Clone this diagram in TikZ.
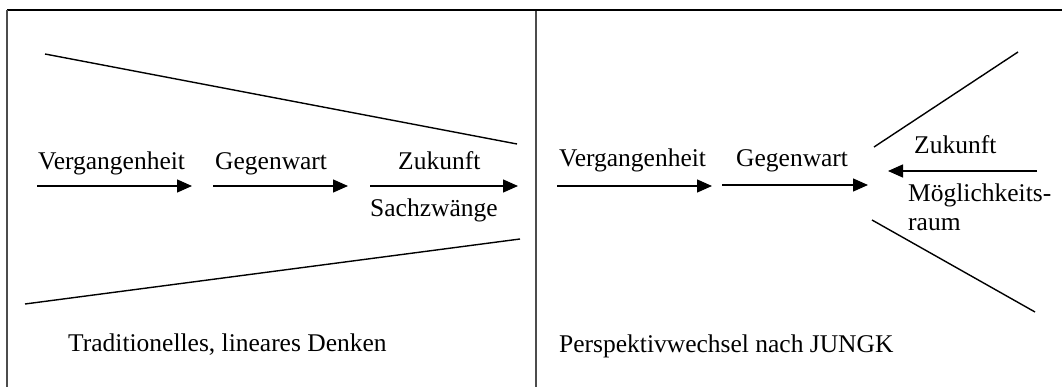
\documentclass[tikz,border=0pt]{standalone}
\usepackage{fontspec}
\setmainfont{Liberation Serif}
\usetikzlibrary{arrows.meta}
\begin{document}
\begin{tikzpicture}[x=1pt,y=-1pt,
  lbl/.style={anchor=base west,inner sep=0pt,font=\fontsize{25.5}{30}\selectfont},
  frameline/.style={line width=2pt,draw=black!70},
  topline/.style={line width=2pt,draw=black},
  diag/.style={line width=1.4pt},
  arr/.style={line width=1.4pt,-{Triangle[length=15pt,width=13pt]}}]
\useasboundingbox (0,0) rectangle (1062,387);
% frame
\coordinate (tl) at (7,10);
\coordinate (tr) at (1062,10);
\coordinate (bl) at (7,387);
\coordinate (tm) at (536,11);
\coordinate (bm) at (536,387);
\draw[topline] (tl) -- (tr);
\draw[frameline] (tl) -- (bl);
\draw[frameline] (tm) -- (bm);
% left panel
\coordinate (lu1) at (45,54);
\coordinate (lu2) at (517,144);
\coordinate (ll1) at (25,304);
\coordinate (ll2) at (520,239);
\draw[diag] (lu1) -- (lu2);
\draw[diag] (ll1) -- (ll2);
\coordinate (a1s) at (37,186);
\coordinate (a1e) at (192,186);
\coordinate (a2s) at (213,186);
\coordinate (a2e) at (348,186);
\coordinate (a3s) at (370,186);
\coordinate (a3e) at (518,186);
\draw[arr] (a1s) -- (a1e);
\draw[arr] (a2s) -- (a2e);
\draw[arr] (a3s) -- (a3e);
\node[lbl] (vl) at (38,170) {Vergangenheit};
\node[lbl] (gl) at (215,170) {Gegenwart};
\node[lbl] (zl) at (398,170) {Zukunft};
\node[lbl] (sz) at (370,217) {Sachzwänge};
\node[lbl] (trad) at (68,351) {Traditionelles, lineares Denken};
% right panel
\coordinate (ru1) at (874,147);
\coordinate (ru2) at (1018,52);
\coordinate (rl1) at (872,220);
\coordinate (rl2) at (1035,312);
\draw[diag] (ru1) -- (ru2);
\draw[diag] (rl1) -- (rl2);
\coordinate (b1s) at (557,186);
\coordinate (b1e) at (712,186);
\coordinate (b2s) at (722,185);
\coordinate (b2e) at (868,185);
\coordinate (b3s) at (1037,171);
\coordinate (b3e) at (888,171);
\draw[arr] (b1s) -- (b1e);
\draw[arr] (b2s) -- (b2e);
\draw[arr] (b3s) -- (b3e);
\node[lbl] (vr) at (559,167) {Vergangenheit};
\node[lbl] (gr) at (736,167) {Gegenwart};
\node[lbl] (zr) at (914,154) {Zukunft};
\node[lbl] (mr) at (908,202) {Möglichkeits-};
\node[lbl] (rr) at (908,231) {raum};
\node[lbl] (persp) at (559,352) {Perspektivwechsel nach JUNGK};
\end{tikzpicture}
\end{document}
